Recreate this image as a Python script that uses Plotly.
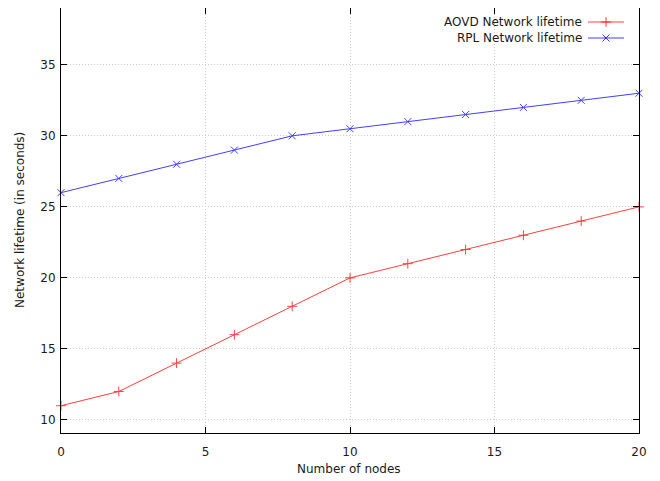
import plotly.graph_objects as go

nodes = [0, 2, 4, 6, 8, 10, 12, 14, 16, 18, 20]
aovd_lifetime = [11, 12, 14, 16, 18, 20, 21, 22, 23, 24, 25]
rpl_lifetime = [26, 27, 28, 29, 30, 30.5, 31, 31.5, 32, 32.5, 33]
series_names = ["AOVD Network lifetime", "RPL Network lifetime"]
series_colors = ["#ff0000", "#0000ff"]
series_symbols = ["cross-thin", "x-thin"]
x_ticks = [0, 5, 10, 15, 20]
y_ticks = [10, 15, 20, 25, 30, 35]

OFF = 8  # page body margin
W, H = 660 - OFF, 481 - OFF
# target plot area in screen pixels: x 61..639, y 8..433
PL, PR, PT, PB = 61 - OFF, 639 - OFF, 8 - OFF, 433 - OFF
ML, MR, MT, MB = PL, W - PR, PT, H - PB
FONT = "DejaVu Sans"
TXT = "#1a1a1a"
FS = 12


def paper_x(sx):
    return (sx - OFF - PL) / (PR - PL)


def paper_y(sy):
    return (PB - (sy - OFF)) / (PB - PT)


fig = go.Figure()
for name, ys, col, sym in zip(series_names, [aovd_lifetime, rpl_lifetime], series_colors, series_symbols):
    fig.add_trace(go.Scatter(
        x=nodes, y=ys, mode="lines+markers", name=name,
        line=dict(color=col, width=1),
        marker=dict(symbol=sym, size=7, color=col, line=dict(color=col, width=1)),
        opacity=0.75, showlegend=False, cliponaxis=False,
    ))

# gnuplot-style legend: text first, sample on the right
leg_y = [22, 38]
for i, (name, col, sym) in enumerate(zip(series_names, series_colors, series_symbols)):
    fig.add_annotation(xref="paper", yref="paper", x=paper_x(584), y=paper_y(leg_y[i]),
                       text=name, showarrow=False, xanchor="right", yanchor="middle",
                       font=dict(family=FONT, size=FS, color=TXT))
    fig.add_trace(go.Scatter(
        x=[588 - OFF, 624 - OFF], y=[leg_y[i] - OFF] * 2, xaxis="x2", yaxis="y2",
        mode="lines", line=dict(color=col, width=1), opacity=0.75,
        showlegend=False, hoverinfo="skip", cliponaxis=False))
    fig.add_trace(go.Scatter(
        x=[606 - OFF], y=[leg_y[i] - OFF], xaxis="x2", yaxis="y2",
        mode="markers", marker=dict(symbol=sym, size=7, color=col, line=dict(color=col, width=1)),
        opacity=0.75, showlegend=False, hoverinfo="skip", cliponaxis=False))

# axis titles
fig.add_annotation(xref="paper", yref="paper", x=paper_x(349), y=paper_y(469), text="Number of nodes",
                   showarrow=False, xanchor="center", yanchor="middle",
                   font=dict(family=FONT, size=FS, color=TXT))
fig.add_annotation(xref="paper", yref="paper", x=paper_x(20), y=paper_y(220), text="Network lifetime (in seconds)",
                   showarrow=False, xanchor="center", yanchor="middle", textangle=-90,
                   font=dict(family=FONT, size=FS, color=TXT))

axis_common = dict(
    showline=True, linecolor="#000000", linewidth=1, mirror="ticks",
    ticks="inside", ticklen=6, tickcolor="#000000", tickwidth=1,
    showgrid=True, gridcolor="#cccccc", griddash="1px,2px", gridwidth=1,
    zeroline=False, tickfont=dict(family=FONT, size=FS, color=TXT),
)

fig.update_layout(
    width=W, height=H,
    margin=dict(l=ML, r=MR, t=MT, b=MB, autoexpand=False),
    paper_bgcolor="white", plot_bgcolor="white",
    font=dict(family=FONT, size=FS, color=TXT),
    xaxis=dict(range=[0, 20], tickvals=x_ticks, ticklabelstandoff=8, **axis_common),
    yaxis=dict(range=[9.08, 39.0], tickvals=y_ticks, ticklabelstandoff=2, **axis_common),
    xaxis2=dict(overlaying="x", anchor="y2", range=[PL, PR], visible=False, fixedrange=True),
    yaxis2=dict(overlaying="y", anchor="x2", range=[PB, PT], visible=False, fixedrange=True),
    showlegend=False,
)

fig.write_html("out.html")
